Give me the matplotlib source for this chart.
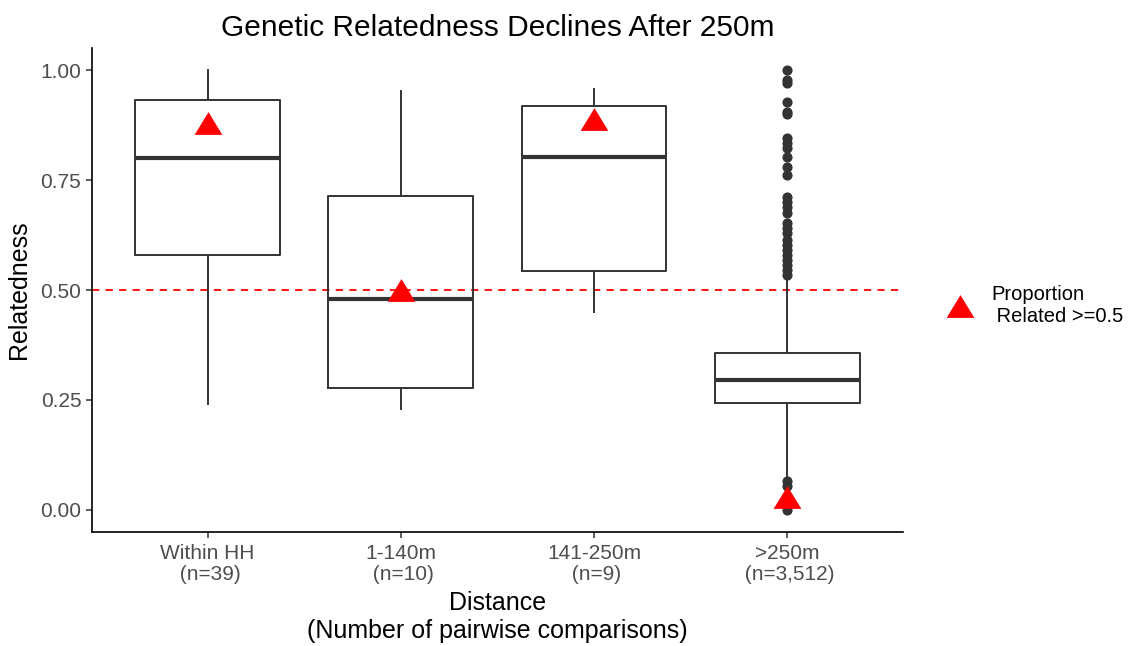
import matplotlib
matplotlib.use("Agg")
import matplotlib.pyplot as plt
from matplotlib.lines import Line2D

plt.rcParams['font.family'] = ['Liberation Sans', 'DejaVu Sans']

categories = ["Within HH\n (n=39)", "1-140m\n (n=10)", "141-250m\n (n=9)", ">250m\n (n=3,512)"]
q1 = [0.580, 0.277, 0.543, 0.243]
med = [0.801, 0.480, 0.803, 0.295]
q3 = [0.933, 0.714, 0.919, 0.356]
whislo = [0.240, 0.229, 0.450, 0.072]
whishi = [1.000, 0.953, 0.958, 0.527]
outliers = [
    [],
    [],
    [],
    [1.0, 0.978, 0.971, 0.928, 0.906, 0.900, 0.846, 0.835, 0.823, 0.803, 0.780,
     0.762, 0.712, 0.700, 0.689, 0.675, 0.652, 0.641, 0.630, 0.614, 0.602, 0.591,
     0.580, 0.568, 0.557, 0.546, 0.534, 0.065, 0.055, 0.0],
]
prop_related = [0.88, 0.50, 0.889, 0.03]
threshold = 0.5

fig = plt.figure(figsize=(11.33, 6.46), dpi=100)
ax = fig.add_axes([0.081, 0.177, 0.716, 0.748])

stats = []
for i in range(len(categories)):
    stats.append(dict(q1=q1[i], med=med[i], q3=q3[i], whislo=whislo[i],
                      whishi=whishi[i], fliers=outliers[i]))
pos = list(range(1, len(categories) + 1))
c = "#333333"
ax.bxp(stats, positions=pos, widths=0.75, showcaps=False,
       boxprops=dict(color=c, linewidth=1.4),
       whiskerprops=dict(color=c, linewidth=1.4),
       medianprops=dict(color=c, linewidth=3.0),
       flierprops=dict(marker='o', markerfacecolor=c, markeredgecolor=c,
                       markersize=6.3, linestyle='none'))

ax.axhline(threshold, color='red', linestyle=(0, (4, 3.5)), linewidth=1.3, zorder=1)

tri = [(-1, -0.82), (1, -0.82), (0, 0.82)]
ax.plot(pos, prop_related, linestyle='none', marker=tri, markersize=20,
        color='red', markeredgewidth=0, zorder=5)

ax.set_xlim(0.4, len(categories) + 0.6)
ax.set_ylim(-0.05, 1.05)
ax.set_yticks([0, 0.25, 0.5, 0.75, 1.0])
ax.set_yticklabels(["0.00", "0.25", "0.50", "0.75", "1.00"])
ax.set_xticks(pos)
ax.set_xticklabels(categories, linespacing=1.15)
for s in ['top', 'right']:
    ax.spines[s].set_visible(False)
for s in ['left', 'bottom']:
    ax.spines[s].set_linewidth(1.2)
    ax.spines[s].set_color('black')
ax.tick_params(axis='both', colors='#333333', labelcolor='#4D4D4D', labelsize=15,
               length=4, width=1.1)
ax.tick_params(axis='x', pad=5)
ax.set_ylabel("Relatedness", fontsize=18, labelpad=7)
ax.set_xlabel("Distance\n(Number of pairwise comparisons)", fontsize=18, labelpad=5,
              linespacing=1.2)
ax.set_title("Genetic Relatedness Declines After 250m", fontsize=21.5, pad=9)

handle = Line2D([], [], linestyle='none', marker=tri, markersize=20, color='red',
                markeredgewidth=0)
leg = fig.legend([handle], ["Proportion\n Related >=0.5"], loc='center left',
                 bbox_to_anchor=(0.817, 0.527), frameon=False, fontsize=14.5,
                 handletextpad=0.75, handlelength=1.6)

fig.savefig("out.png", dpi=100)
